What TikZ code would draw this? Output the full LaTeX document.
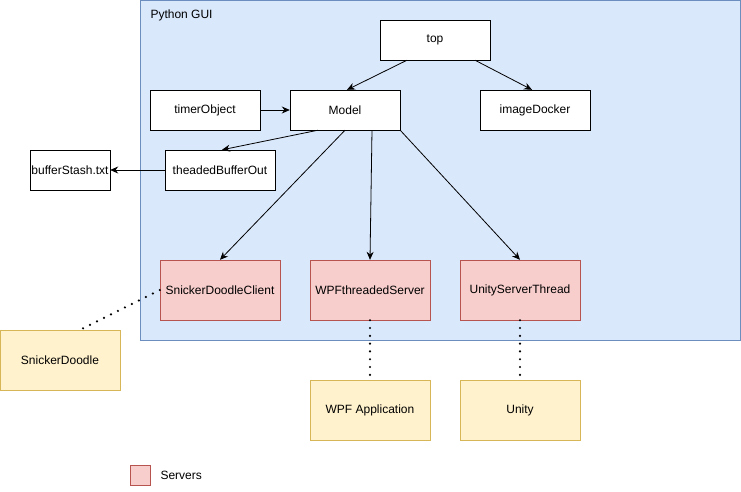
\documentclass[tikz,border=0pt]{standalone}
\usepackage{fontspec}
\setmainfont{Liberation Sans}
\usetikzlibrary{arrows.meta}
\definecolor{guifill}{HTML}{DAE8FC}
\definecolor{guiline}{HTML}{6C8EBF}
\definecolor{srvfill}{HTML}{F8CECC}
\definecolor{srvline}{HTML}{B85450}
\definecolor{extfill}{HTML}{FFF2CC}
\definecolor{extline}{HTML}{D6B656}
\tikzset{
  box/.style={draw=black, fill=white, minimum width=110pt, minimum height=40pt, inner sep=0pt, font=\fontsize{12}{14}\selectfont},
  srvbox/.style={box, draw=srvline, fill=srvfill, minimum width=120pt, minimum height=60pt},
  extbox/.style={box, draw=extline, fill=extfill, minimum width=120pt, minimum height=60pt},
  link/.style={-{Stealth[length=8pt,width=7pt]}, line width=0.8pt},
  dotlink/.style={line width=2.4pt, dash pattern=on 0pt off 7.8pt, line cap=round}
}
\begin{document}
\begin{tikzpicture}[x=1pt,y=-1pt]
\useasboundingbox (0,0) rectangle (741,491);
\draw[guiline, fill=guifill, line width=0.8pt] (140,0.5) rectangle (740,340);
\node[anchor=west, font=\fontsize{12}{14}\selectfont] (gui) at (147,15) {Python GUI};

\node[box] (top) at (435,40) {top};
\node[box] (timer) at (205,110) {timerObject};
\node[box] (model) at (345,110) {Model};
\node[box] (docker) at (535,110) {imageDocker};
\node[box] (bufout) at (220,170) {theadedBufferOut};
\node[box, minimum width=80pt] (stash) at (70,170) {bufferStash.txt};

\node[srvbox] (sdclient) at (220,290) {SnickerDoodleClient};
\node[srvbox] (wpfserver) at (370,290) {WPFthreadedServer};
\node[srvbox] (unityserver) at (520,290) {UnityServerThread};

\node[extbox] (sd) at (60,360) {SnickerDoodle};
\node[extbox] (wpfapp) at (370,410) {WPF Application};
\node[extbox] (unity) at (520,410) {Unity};

\draw[link] ([xshift=-28pt]top.south) -- ([xshift=2pt]model.north);
\draw[link] ([xshift=40pt]top.south) -- ([xshift=-3pt]docker.north);
\draw[link] (timer) -- (model);
\draw[link] ([xshift=-27pt]model.south) -- ([xshift=2pt]bufout.north);
\draw[link] (bufout) -- (stash);
\draw[link] (model.south) -- (sdclient.north);
\draw[link] ([xshift=27pt]model.south) -- (wpfserver.north);
\draw[link] (model.south east) -- (unityserver.north);

\draw[dotlink] (sdclient.west) -- ([xshift=20pt]sd.north);
\draw[dotlink] (wpfserver) -- (wpfapp);
\draw[dotlink] (unityserver) -- (unity);

% legend
\node[draw=srvline, fill=srvfill, minimum size=20pt, inner sep=0pt] (key) at (140,475) {};
\node[anchor=west, font=\fontsize{12}{14}\selectfont] (keytext) at (157,475) {Servers};
\end{tikzpicture}
\end{document}
